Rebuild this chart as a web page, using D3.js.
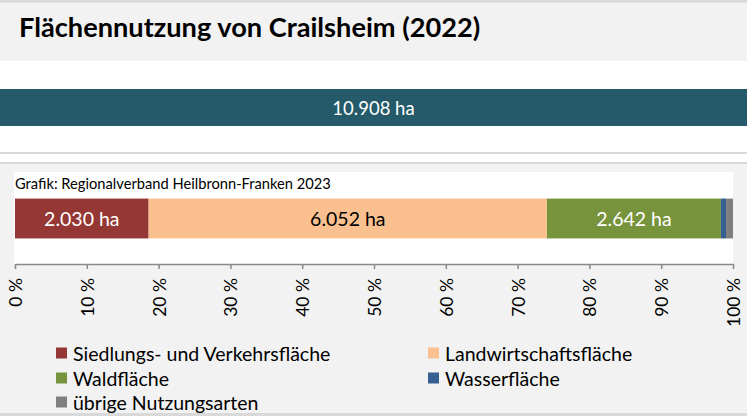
<!DOCTYPE html>
<html>
<head>
<meta charset="utf-8">
<script src="https://cdn.jsdelivr.net/npm/d3@7"></script>
<style>
  html, body { margin: 0; padding: 0; background: #f2f2f2; }
  svg { display: block; }
  text { font-family: Lato, "Open Sans", sans-serif; }
</style>
</head>
<body>
<svg id="chart" width="747" height="416"></svg>
<script>
// Land use of Crailsheim, 2022 (hectares)
const title = "Flächennutzung von Crailsheim (2022)";
const source = "Grafik: Regionalverband Heilbronn-Franken 2023";
const totalArea = 10908;
const categories = ["Siedlungs- und Verkehrsfläche", "Landwirtschaftsfläche", "Waldfläche", "Wasserfläche", "übrige Nutzungsarten"];
const areas = [2030, 6052, 2642, 78, 106];
const colors = ["#953735", "#fac090", "#77933c", "#376092", "#7f7f7f"];
const labelColors = ["#ffffff", "#000000", "#ffffff", null, null];
const tickValues = [0, 0.1, 0.2, 0.3, 0.4, 0.5, 0.6, 0.7, 0.8, 0.9, 1];

const fmtHa = v => d3.format(",")(v).replace(/,/g, ".") + " ha";
const W = 747, H = 416;
const svg = d3.select("#chart");

// page bands
svg.append("rect").attr("x", 0).attr("y", 0).attr("width", W).attr("height", H).attr("fill", "#f2f2f2");
svg.append("rect").attr("x", 0).attr("y", 0).attr("width", W).attr("height", 2.5).attr("fill", "#d9d9d9");
svg.append("rect").attr("x", 0).attr("y", 61).attr("width", W).attr("height", 91).attr("fill", "#ffffff");
svg.append("rect").attr("x", 0).attr("y", 152).attr("width", W).attr("height", 2).attr("fill", "#d9d9d9");
svg.append("rect").attr("x", 0).attr("y", 154).attr("width", W).attr("height", 8).attr("fill", "#ffffff");
svg.append("rect").attr("x", 0).attr("y", 162).attr("width", W).attr("height", 2).attr("fill", "#d9d9d9");
svg.append("rect").attr("x", 0).attr("y", 413).attr("width", W).attr("height", 3).attr("fill", "#d9d9d9");

// title
svg.append("text").attr("x", 19).attr("y", 37)
  .attr("font-size", 27.2).attr("font-weight", 700).attr("fill", "#000")
  .text(title);

// total area band
svg.append("rect").attr("x", 0).attr("y", 89).attr("width", W).attr("height", 37).attr("fill", "#245a6a");
svg.append("text").attr("x", W / 2).attr("y", 107.5)
  .attr("text-anchor", "middle").attr("dominant-baseline", "central")
  .attr("font-size", 18.5).attr("fill", "#fff")
  .text(fmtHa(totalArea));

// chart panel
svg.append("rect").attr("x", 14).attr("y", 172).attr("width", 719).attr("height", 92).attr("fill", "#ffffff");
svg.append("text").attr("x", 15).attr("y", 188.5)
  .attr("font-family", "'Open Sans', sans-serif")
  .attr("font-size", 14.7).attr("fill", "#000")
  .text(source);

const x = d3.scaleLinear().domain([0, 1]).range([15, 733]);
const y = d3.scaleBand().domain(["Crailsheim"]).range([193, 244]).paddingInner(0).paddingOuter(0.14);

const sum = d3.sum(areas);
let acc = 0;
const segs = areas.map((v, i) => {
  const s = { i, v, x0: acc / sum, x1: (acc + v) / sum };
  acc += v;
  return s;
});

const bar = svg.append("g");
bar.selectAll("rect").data(segs).join("rect")
  .attr("x", d => x(d.x0))
  .attr("y", y("Crailsheim"))
  .attr("width", d => x(d.x1) - x(d.x0))
  .attr("height", y.bandwidth())
  .attr("fill", d => colors[d.i]);

bar.selectAll("text").data(segs.filter(d => labelColors[d.i])).join("text")
  .attr("x", d => (x(d.x0) + x(d.x1)) / 2)
  .attr("y", y("Crailsheim") + y.bandwidth() / 2)
  .attr("text-anchor", "middle").attr("dominant-baseline", "central")
  .attr("font-size", 19.5)
  .attr("fill", d => labelColors[d.i])
  .text(d => fmtHa(d.v));

// percentage axis
const axis = d3.axisBottom(x).tickValues(tickValues)
  .tickFormat(d => Math.round(d * 100) + " %").tickSize(5).tickSizeOuter(0);
const ag = svg.append("g").attr("transform", "translate(0,264)").call(axis);
ag.select(".domain").attr("stroke", "#898989").attr("stroke-width", 1.5);
ag.selectAll(".tick line").attr("stroke", "#898989").attr("stroke-width", 1.5);
ag.selectAll(".tick text")
  .attr("font-family", "Lato, 'Open Sans', sans-serif")
  .attr("font-size", 17.5).attr("fill", "#000")
  .attr("transform", "rotate(-90)")
  .attr("text-anchor", "end").attr("dominant-baseline", "central")
  .attr("x", -14).attr("y", 0).attr("dy", null);

// legend
const legendPos = [[56, 353], [428, 353], [56, 378], [428, 378], [56, 402]];
const lg = svg.append("g").selectAll("g").data(categories).join("g")
  .attr("transform", (d, i) => `translate(${legendPos[i][0]},${legendPos[i][1]})`);
lg.append("rect").attr("x", 0).attr("y", -5.5).attr("width", 11).attr("height", 11)
  .attr("fill", (d, i) => colors[i]);
lg.append("text").attr("x", 17).attr("y", 0).attr("dominant-baseline", "central")
  .attr("font-size", 19.5).attr("fill", "#000")
  .text(d => d);
</script>
</body>
</html>
